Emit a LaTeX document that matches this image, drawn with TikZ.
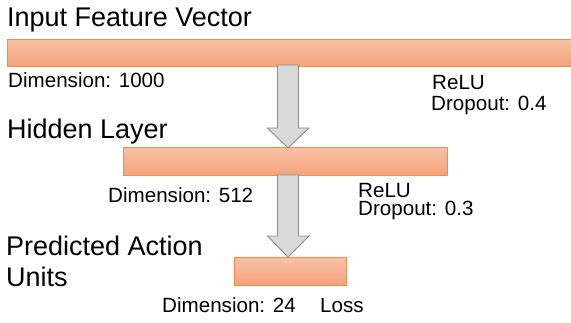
\documentclass[tikz,border=0pt]{standalone}
\usepackage{fontspec}
\setmainfont{Liberation Sans}
\definecolor{bartop}{HTML}{F7C2A6}
\definecolor{barbot}{HTML}{F4A27B}
\definecolor{barline}{HTML}{F28A4E}
\definecolor{arrfill}{HTML}{D9D9D9}
\definecolor{arrline}{HTML}{8A8A8A}
\tikzset{
  bar/.style={draw=barline, line width=0.9pt, top color=bartop, bottom color=barbot, inner sep=0pt, anchor=north west},
  bigtxt/.style={inner sep=0pt, anchor=base west, font=\fontsize{27}{31}\selectfont},
  smalltxt/.style={inner sep=0pt, anchor=base west, font=\fontsize{20.6}{24}\selectfont},
  flowarrow/.style={draw=arrline, fill=arrfill, line width=0.9pt, line join=miter},
}
\begin{document}
\begin{tikzpicture}[x=1pt,y=-1pt]
\useasboundingbox (0,0) rectangle (571,322);
% bars
\node[bar, minimum width=566pt, minimum height=27pt] (bar1) at (7,39) {};
\node[bar, minimum width=324pt, minimum height=28pt] (bar2) at (123,147) {};
\node[bar, minimum width=112pt, minimum height=28pt] (bar3) at (234,257) {};
% arrows
\coordinate (a1s) at (288,65);
\coordinate (a2s) at (288,175);
\draw[flowarrow] (a1s) ++(-10.5,0) -- ++(0,63) -- ++(-10,0) -- (288,148) -- (309,128) -- ++(-10.5,0) -- ++(0,-63) -- cycle;
\draw[flowarrow] (a2s) ++(-10.5,0) -- ++(0,61) -- ++(-10,0) -- (288,257) -- (309,236) -- ++(-10.5,0) -- ++(0,-61) -- cycle;
% texts
\node[bigtxt] (t1) at (7,26) {Input Feature Vector};
\node[smalltxt] (d1) at (8,87) {Dimension: 1000};
\node[smalltxt] (r1) at (432,89) {ReLU};
\node[smalltxt] (p1) at (431,110) {Dropout: 0.4};
\node[bigtxt] (t2) at (7,138) {Hidden Layer};
\node[smalltxt] (d2) at (108,202) {Dimension: 512};
\node[smalltxt] (r2) at (358,197) {ReLU};
\node[smalltxt] (p2) at (358,215) {Dropout: 0.3};
\node[bigtxt] (t3a) at (6,255) {Predicted Action};
\node[bigtxt] (t3b) at (6,286) {Units};
\node[smalltxt] (d3) at (162,312) {Dimension: 24};
\node[smalltxt] (l3) at (320,312) {Loss};
\end{tikzpicture}
\end{document}
